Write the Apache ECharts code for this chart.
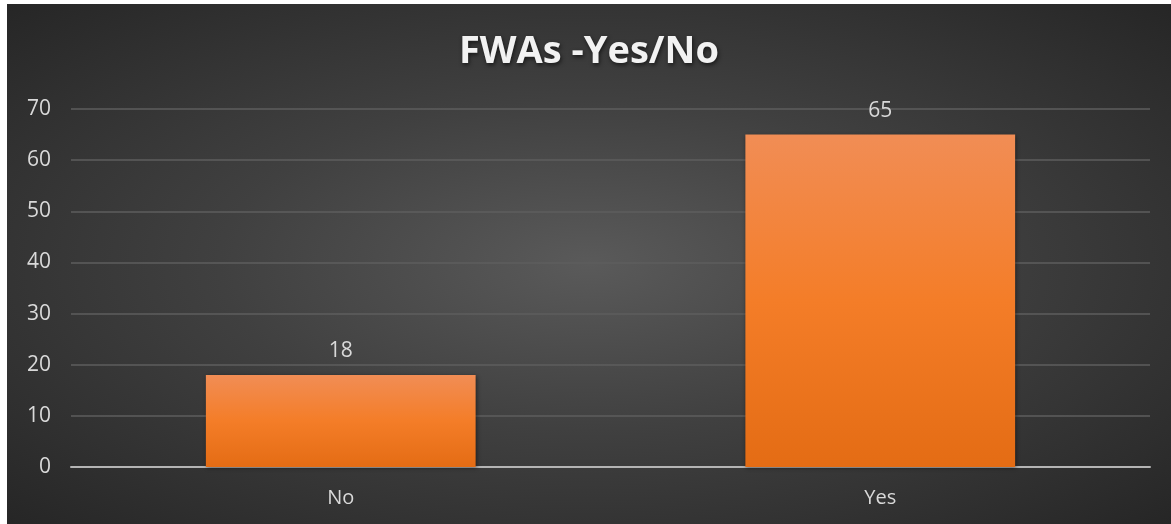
<!DOCTYPE html>
<html>
<head>
<meta charset="utf-8">
<script src="https://cdn.jsdelivr.net/npm/echarts@6/dist/echarts.min.js"></script>
<style>
  html, body { margin:0; padding:0; background:#fff; }
  #chart {
    position:absolute; left:7px; top:4px; width:1164px; height:520px;
    background: radial-gradient(ellipse at 50% 50%, #5a5a5a 0%, #404040 45%, #262626 100%);
  }
</style>
</head>
<body>
<div id="chart"></div>
<script>
const TITLE = "FWAs -Yes/No";
const categories = ["No", "Yes"];
const counts = [18, 65];

const chart = echarts.init(document.getElementById("chart"));

chart.setOption({
  backgroundColor: "transparent",
  animation: false,
  title: {
    text: TITLE,
    left: "center",
    top: 24,
    textStyle: {
      color: "#f2f2f2",
      fontFamily: "Open Sans",
      fontWeight: "bold",
      fontSize: 38,
      letterSpacing: 2,
      textShadowColor: "rgba(0,0,0,0.6)",
      textShadowBlur: 4,
      textShadowOffsetX: 1,
      textShadowOffsetY: 2
    }
  },
  grid: { left: 64, right: 21, top: 105, bottom: 57, containLabel: false },
  xAxis: {
    type: "category",
    data: categories,
    axisLine: { lineStyle: { color: "#b4b4b4", width: 2 } },
    axisTick: { show: false },
    axisLabel: { color: "#d9d9d9", fontFamily: "Open Sans", fontSize: 20, margin: 21 }
  },
  yAxis: {
    type: "value",
    min: 0,
    max: 70,
    interval: 10,
    axisLine: { show: false },
    axisTick: { show: false },
    axisLabel: { color: "#d9d9d9", fontFamily: "Open Sans", fontSize: 21, margin: 20 },
    splitLine: { lineStyle: { color: "#5e5e5e", width: 1.5 } }
  },
  series: [{
    type: "bar",
    data: counts,
    barWidth: "50%",
    itemStyle: {
      color: new echarts.graphic.LinearGradient(0, 0, 0, 1, [
        { offset: 0, color: "#f18d55" },
        { offset: 0.5, color: "#f47d28" },
        { offset: 1, color: "#e46c14" }
      ]),
      shadowColor: "rgba(0,0,0,0.45)",
      shadowBlur: 4,
      shadowOffsetX: 1,
      shadowOffsetY: 1
    },
    label: {
      show: true,
      position: "top",
      distance: 13,
      color: "#d9d9d9",
      fontFamily: "Open Sans",
      fontSize: 21
    }
  }]
});
</script>
</body>
</html>
